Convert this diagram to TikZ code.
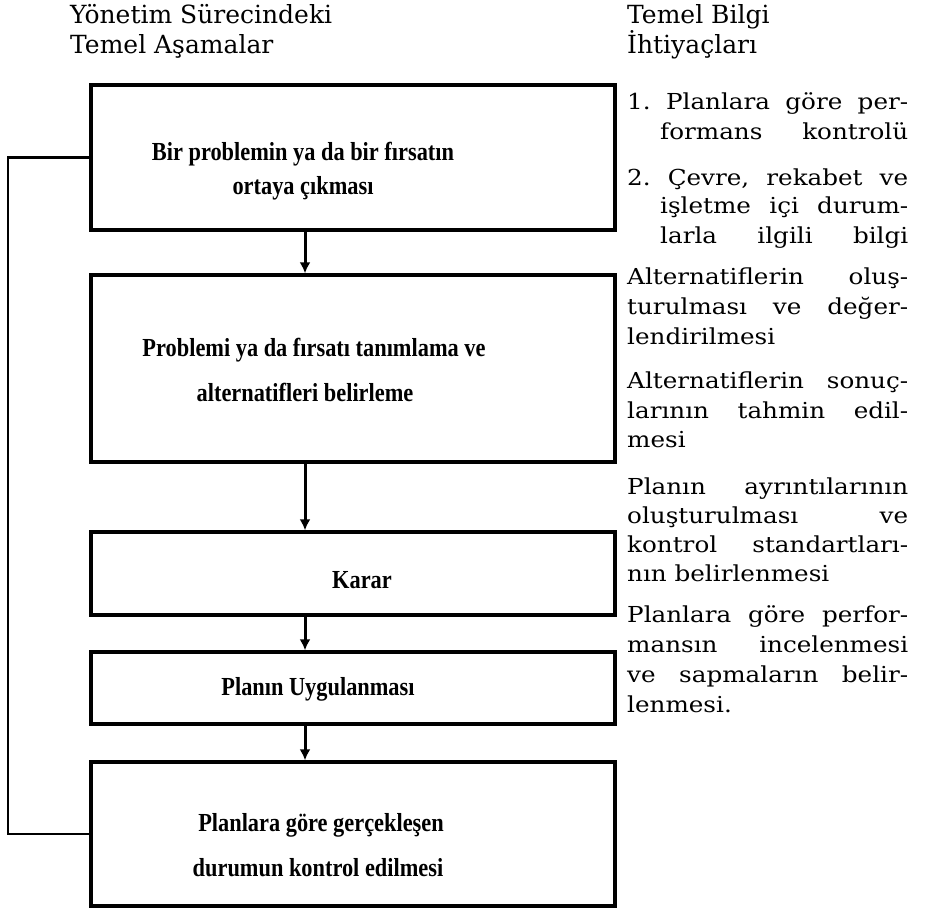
\documentclass[tikz,border=0pt]{standalone}
\usepackage{fontspec}
\usetikzlibrary{arrows.meta}
\newfontfamily\hdfont{DejaVu Serif}
\newfontfamily\rtfont[FakeStretch=1.12]{DejaVu Serif}
\newfontfamily\bxfont[FakeStretch=0.86]{Liberation Serif}
\frenchspacing
\tikzset{
  box/.style={draw, line width=3.4pt, minimum width=524pt, inner sep=0pt},
  boxtxt/.style={font=\bxfont\bfseries\fontsize{26}{30}\selectfont, inner sep=0pt, anchor=base},
  hd/.style={font=\hdfont\fontsize{25}{28}\selectfont, inner sep=0pt, anchor=base west},
  rt/.style={font=\rtfont\fontsize{22}{30}\selectfont, inner sep=0pt, anchor=base west},
  arr/.style={line width=3pt, -{Latex[length=11pt,width=11pt]}},
  loopline/.style={line width=2.4pt},
}
\begin{document}
\begin{tikzpicture}[x=1pt,y=-1pt]
\useasboundingbox (0,0) rectangle (925,913);
% headers
\node[hd] (h1) at (70,23) {Yönetim Sürecindeki};
\node[hd] (h2) at (70,53) {Temel Aşamalar};
\node[hd] (h3) at (627,23) {Temel Bilgi};
\node[hd] (h4) at (627,53) {İhtiyaçları};
% boxes
\node[box, minimum height=145pt] (b1) at (353,157.5) {};
\node[box, minimum height=187pt] (b2) at (353,368.5) {};
\node[box, minimum height=83pt]  (b3) at (353,573.5) {};
\node[box, minimum height=72pt]  (b4) at (353,688) {};
\node[box, minimum height=144pt] (b5) at (353,834) {};
% box texts
\node[boxtxt] (t1a) at (303,160) {Bir problemin ya da bir fırsatın};
\node[boxtxt] (t1b) at (303,194) {ortaya çıkması};
\node[boxtxt] (t2a) at (314,356) {Problemi ya da fırsatı tanımlama ve};
\node[boxtxt] (t2b) at (305,401) {alternatifleri belirleme};
\node[boxtxt] (t3) at (362,588) {Karar};
\node[boxtxt] (t4) at (318,695) {Planın Uygulanması};
\node[boxtxt] (t5a) at (321,831) {Planlara göre gerçekleşen};
\node[boxtxt] (t5b) at (318,876) {durumun kontrol edilmesi};
% arrows
\coordinate (ax) at (305,0);
\draw[arr] (b1.south -| ax) -- (b2.north -| ax);
\draw[arr] (b2.south -| ax) -- (b3.north -| ax);
\draw[arr] (b3.south -| ax) -- (b4.north -| ax);
\draw[arr] (b4.south -| ax) -- (b5.north -| ax);
% feedback loop
\coordinate (lx) at (8,0);
\draw[loopline] (b1.west) -- (b1.west -| lx) -- (b5.west -| lx) -- (b5.west);
% right column
\node[rt] (r1) at (627,109) {\makebox[281pt][s]{1. Planlara göre per-}};
\node[rt] (r2) at (660,139) {\makebox[248pt][s]{formans kontrolü}};
\node[rt] (r3) at (627,185) {\makebox[281pt][s]{2. Çevre, rekabet ve}};
\node[rt] (r4) at (660,213) {\makebox[248pt][s]{işletme içi durum-}};
\node[rt] (r5) at (660,243) {\makebox[248pt][s]{larla ilgili bilgi}};
\node[rt] (r6) at (627,284) {\makebox[281pt][s]{Alternatiflerin oluş-}};
\node[rt] (r7) at (627,314) {\makebox[281pt][s]{turulması ve değer-}};
\node[rt] (r8) at (627,344) {lendirilmesi};
\node[rt] (r9) at (627,388) {\makebox[281pt][s]{Alternatiflerin sonuç-}};
\node[rt] (r10) at (627,418) {\makebox[281pt][s]{larının tahmin edil-}};
\node[rt] (r11) at (627,447) {mesi};
\node[rt] (r12) at (627,494) {\makebox[281pt][s]{Planın ayrıntılarının}};
\node[rt] (r13) at (627,523) {\makebox[281pt][s]{oluşturulması ve}};
\node[rt] (r14) at (627,552) {\makebox[281pt][s]{kontrol standartları-}};
\node[rt] (r15) at (627,581) {nın belirlenmesi};
\node[rt] (r16) at (627,622) {\makebox[281pt][s]{Planlara göre perfor-}};
\node[rt] (r17) at (627,652) {\makebox[281pt][s]{mansın incelenmesi}};
\node[rt] (r18) at (627,682) {\makebox[281pt][s]{ve sapmaların belir-}};
\node[rt] (r19) at (627,712) {lenmesi.};
\end{tikzpicture}
\end{document}
